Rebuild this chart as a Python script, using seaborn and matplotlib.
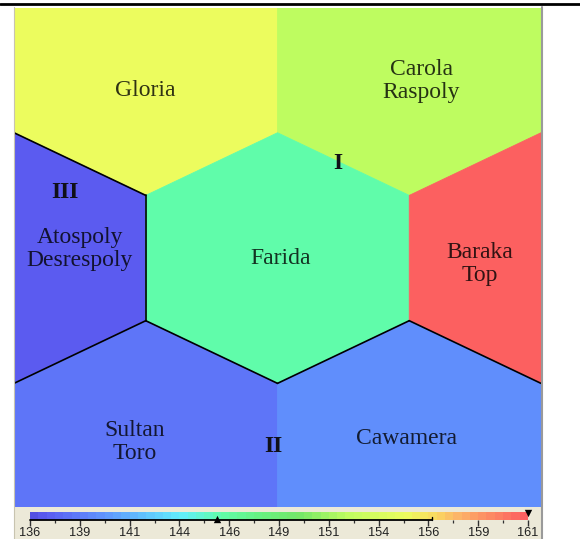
import numpy as np
import matplotlib
matplotlib.use("Agg")
import matplotlib.pyplot as plt
import seaborn as sns
from matplotlib.colors import LinearSegmentedColormap, Normalize
from matplotlib.cm import ScalarMappable
from matplotlib.patches import Rectangle, Polygon
from matplotlib.lines import Line2D

# ---------------- data ----------------
cell_names = ["Gloria", "Carola\nRaspoly", "Atospoly\nDesrespoly", "Farida",
              "Baraka\nTop", "Sultan\nToro", "Cawamera"]
cell_col = [0, 1, 0, 1, 2, 0, 1]          # hex-lattice column index
cell_row = [0, 0, 1, 1, 1, 2, 2]          # hex-lattice row index
cell_value = [155.0, 152.0, 136.6, 145.5, 161.0, 138.0, 139.3]
cell_cluster = ["I", "I", "III", "I", "I", "II", "II"]

cluster_names = ["I", "II", "III"]
cluster_label_x = [1.23, 0.983, 0.194]
cluster_label_y = [0.431, 1.736, 0.565]

name_label_x = [0.50, 1.545, 0.25, 1.013, 1.768, 0.459, 1.488]
name_label_y = [0.093, 0.051, 0.824, 0.866, 0.894, 1.713, 1.699]

cbar_min, cbar_max = 136.0, 161.0
cbar_tick_labels = ["136", "139", "141", "144", "146", "149", "151", "154", "156", "159", "161"]
range_low, range_high = 136.0, 156.2
marker_up_value = 145.4
marker_down_value = 161.0

# ---------------- style ----------------
sns.set_theme(style="white")
plt.rcParams["font.family"] = ["Liberation Serif", "DejaVu Serif"]

nodes = [
    (136.0, "#5450e2"), (136.6, "#5b5bf0"), (138.0, "#5e76f8"), (139.3, "#608ffc"),
    (141.0, "#60b4fc"), (143.5, "#62eefc"), (145.5, "#60fcaa"), (147.5, "#66f282"),
    (149.5, "#74e668"), (152.0, "#bffc60"), (155.0, "#ecfc5e"), (156.5, "#fad860"),
    (157.5, "#fcb868"), (159.0, "#fc9064"), (161.0, "#fc6060"),
]
cmap = LinearSegmentedColormap.from_list(
    "som", [((v - cbar_min) / (cbar_max - cbar_min), c) for v, c in nodes])
norm = Normalize(cbar_min, cbar_max)

W, H = 580, 539
fig = plt.figure(figsize=(W / 100, H / 100), dpi=100)
fig.patch.set_facecolor("white")

def fx(px):
    return px / W

def fy(py):
    return 1 - py / H

# bottom beige panel (behind the axes)
fig.patches.append(Rectangle((fx(14), fy(539)), fx(541) - fx(14), fy(507) - fy(539),
                             transform=fig.transFigure, facecolor="#ece9d8",
                             edgecolor="none", zorder=-5))

ax = fig.add_axes([fx(14), fy(507), fx(541) - fx(14), fy(8) - fy(507)])
ax.set_xlim(0, 2)
ax.set_ylim(2.013, -0.286)
ax.set_axis_off()

R = 1 / np.sqrt(3)
angles = np.deg2rad([90, 30, -30, -90, -150, 150])

def center(i):
    r = cell_row[i]
    return cell_col[i] + 0.5 * (1 - r % 2), r * 0.8660254

def hexverts(i):
    cx, cy = center(i)
    return np.column_stack([cx + R * np.cos(angles), cy - R * np.sin(angles)])

for i in range(len(cell_names)):
    col = cmap(norm(cell_value[i]))
    ax.add_patch(Polygon(hexverts(i), closed=True, facecolor=col, edgecolor=col,
                         lw=0.6, zorder=1))

# cluster boundaries
n = len(cell_names)
for i in range(n):
    for j in range(i + 1, n):
        if cell_cluster[i] == cell_cluster[j]:
            continue
        vi, vj = hexverts(i), hexverts(j)
        shared = [p for p in vi if np.min(np.hypot(*(vj - p).T)) < 1e-6]
        if len(shared) == 2:
            s = np.array(shared)
            ax.plot(s[:, 0], s[:, 1], color="black", lw=1.2, zorder=3,
                    solid_capstyle="round")

# labels
for i, name in enumerate(cell_names):
    rgb = np.array(cmap(norm(cell_value[i]))[:3])
    ax.text(name_label_x[i], name_label_y[i], name, ha="center", va="center",
            fontsize=17, color=tuple(rgb * 0.2), linespacing=1.12, zorder=4)

for k, cl in enumerate(cluster_names):
    ax.text(cluster_label_x[k], cluster_label_y[k], cl, ha="center", va="center",
            fontsize=17, fontweight="bold", color="#101018", zorder=4)

# colorbar
cax = fig.add_axes([fx(30), fy(520), fx(528) - fx(30), fy(512) - fy(520)])
sm = ScalarMappable(norm=norm, cmap=cmap.resampled(60))
cb = fig.colorbar(sm, cax=cax, orientation="horizontal")
cb.outline.set_visible(False)
ticks = np.linspace(cbar_min, cbar_max, len(cbar_tick_labels))
cb.set_ticks(ticks)
cb.set_ticklabels(cbar_tick_labels)
cax.set_xticks((ticks[:-1] + ticks[1:]) / 2, minor=True)
cax.tick_params(axis="x", which="major", direction="out", length=4.3, width=1.0,
                color="#303030", pad=0.6, labelsize=9.2, labelcolor="#202020",
                bottom=True)
cax.tick_params(axis="x", which="minor", direction="out", length=2.2, width=0.9,
                color="#303030", bottom=True)
for lab in cax.get_xticklabels():
    lab.set_family(["Liberation Sans", "DejaVu Sans"])

cax.plot([range_low, range_high], [0, 0], color="black", lw=1.3, clip_on=False, zorder=5)
cax.plot([range_high, range_high], [0, 0.35], color="black", lw=1.0, clip_on=False, zorder=5)
sns.scatterplot(x=[marker_up_value], y=[0.18], marker="^", s=28, color="black",
                ax=cax, clip_on=False, zorder=6, linewidth=0, legend=False)
sns.scatterplot(x=[marker_down_value], y=[0.85], marker="v", s=28, color="black",
                ax=cax, clip_on=False, zorder=6, linewidth=0, legend=False)
cax.set_xlim(cbar_min, cbar_max)
cax.set_ylim(0, 1)

# frame lines
fig.add_artist(Line2D([0, 1], [fy(4), fy(4)], color="black", lw=2.0,
                      transform=fig.transFigure))
fig.add_artist(Line2D([fx(542), fx(542)], [fy(7), fy(539)], color="#9a9a9a", lw=1.5,
                      transform=fig.transFigure))
fig.add_artist(Line2D([fx(13.5), fx(13.5)], [fy(7), fy(539)], color="#c8c4b0", lw=0.8,
                      transform=fig.transFigure))

fig.savefig("out.png", dpi=100)
